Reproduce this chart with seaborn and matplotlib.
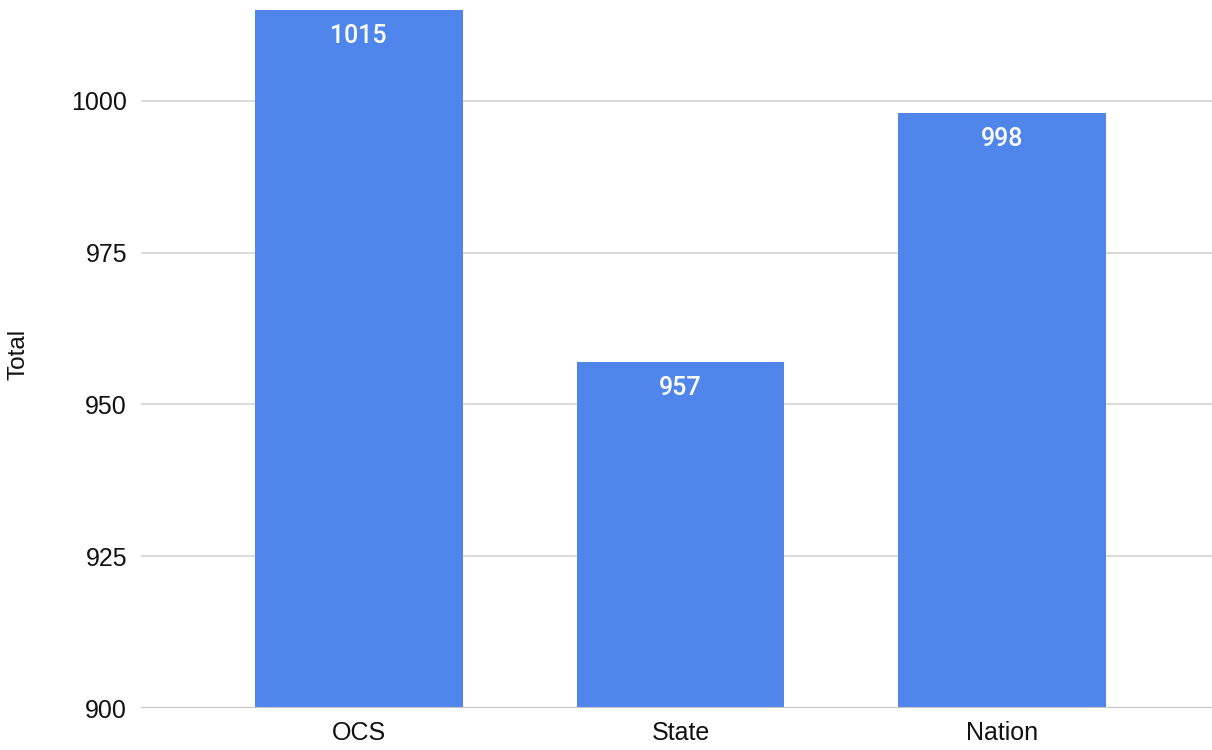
import pandas as pd
import seaborn as sns
import matplotlib.pyplot as plt

categories = ["OCS", "State", "Nation"]
totals = [1015, 957, 998]
y_ticks = [900, 925, 950, 975, 1000]

df = pd.DataFrame({"group": categories, "total": totals})

sns.set_style("white")
plt.rcParams["font.family"] = ["Liberation Sans", "DejaVu Sans"]

fig = plt.figure(figsize=(12.12, 7.5), dpi=100)
ax = fig.add_axes([0.1163, 0.056, 0.8837, 0.944])

sns.barplot(data=df, x="group", y="total", color="#5086ec", saturation=1,
            width=0.646, linewidth=0, ax=ax, zorder=3)

ax.set_ylim(900, 1016.6)
ax.set_xlim(-0.677, 2.652)
ax.set_yticks(y_ticks)
ax.yaxis.grid(True, color="#d4d4d4", linewidth=1.2, zorder=0)
ax.set_axisbelow(True)
for s in ax.spines.values():
    s.set_visible(False)
ax.axhline(900, color="#c4c4c4", linewidth=1.5, zorder=4)

ax.tick_params(axis="both", length=0, labelsize=18, labelcolor="#111111")
ax.tick_params(axis="y", pad=10)
ax.tick_params(axis="x", pad=9)

ax.set_xlabel("")
ax.set_ylabel("Total", fontsize=17.5, color="#111111")
ax.yaxis.set_label_coords(-0.104, 0.5)

for i, v in enumerate(totals):
    ax.annotate(str(v), xy=(i, v), xytext=(0, -10), textcoords="offset points",
                ha="center", va="top", color="white", fontsize=18,
                fontweight="medium", family=["Roboto", "DejaVu Sans"], zorder=5)

fig.savefig("out.png", dpi=100)
